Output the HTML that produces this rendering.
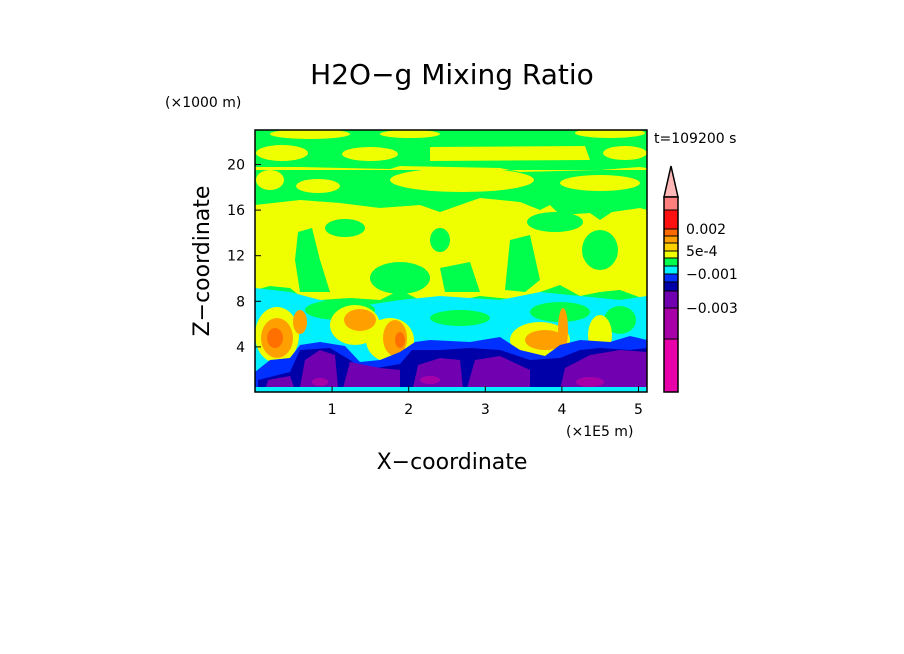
<!DOCTYPE html>
<html><head><meta charset="utf-8"><style>
body{margin:0;background:#fff;}
svg{display:block;font-family:"DejaVu Sans","Liberation Sans",sans-serif;}
</style></head><body>
<svg width="904" height="654" viewBox="0 0 904 654" id="svg">
<defs><clipPath id="pc"><rect x="255" y="130" width="392" height="262"/></clipPath></defs>
<text x="452" y="84" font-size="28" text-anchor="middle">H2O−g Mixing Ratio</text>
<text x="165" y="107" font-size="14">(×1000 m)</text>
<text x="654" y="143" font-size="14">t=109200 s</text>
<text x="566" y="436" font-size="14">(×1E5 m)</text>
<text x="452" y="469" font-size="22" text-anchor="middle">X−coordinate</text>
<text transform="translate(209,261) rotate(-90)" font-size="22" text-anchor="middle">Z−coordinate</text>
<g clip-path="url(#pc)">
<rect x="255" y="130" width="392" height="262" fill="#00ff4c"/>
<g fill="#f0ff00">
<ellipse cx="310" cy="134" rx="40" ry="5"/><ellipse cx="410" cy="134" rx="30" ry="4"/><ellipse cx="610" cy="133" rx="35" ry="5"/>
<ellipse cx="282" cy="153" rx="26" ry="8"/><ellipse cx="370" cy="154" rx="28" ry="7"/><path d="M430 147 L585 146 L590 160 L430 161 Z"/><ellipse cx="625" cy="153" rx="22" ry="7"/>
<path d="M255 167 L300 167 L390 169 L400 166 L500 168 L520 172 L600 170 L640 167 L647 168 L647 170 L255 170 Z"/>
<ellipse cx="270" cy="180" rx="14" ry="10"/><ellipse cx="318" cy="186" rx="22" ry="7"/><ellipse cx="462" cy="180" rx="72" ry="12"/><ellipse cx="600" cy="183" rx="40" ry="8"/>
<path d="M255 205 L300 200 L340 203 L380 208 L420 205 L440 212 L480 198 L520 202 L540 210 L550 205 L560 215 L590 213 L600 220 L612 212 L640 208 L647 210 L647 300 L620 290 L600 292 L580 296 L560 285 L540 292 L520 300 L480 296 L450 302 L420 300 L400 290 L380 300 L350 298 L320 300 L300 296 L290 288 L270 286 L255 290 Z"/>
</g>
<g fill="#00ff4c"><ellipse cx="345" cy="228" rx="20" ry="9"/><path d="M298 232 L312 228 L320 260 L330 292 L300 292 L295 260 Z"/><ellipse cx="440" cy="240" rx="10" ry="12"/><ellipse cx="555" cy="222" rx="28" ry="10"/><path d="M510 240 L530 235 L540 280 L525 292 L505 290 Z"/><ellipse cx="600" cy="250" rx="18" ry="20"/><ellipse cx="400" cy="278" rx="30" ry="16"/><path d="M440 268 L470 262 L480 292 L445 292 Z"/></g>
<path fill="#00f0ff" d="M255 288 L290 292 L320 300 L360 306 L400 300 L440 296 L470 298 L500 300 L540 292 L580 296 L620 300 L647 296 L647 392 L255 392 Z"/>
<g fill="#00ff4c"><ellipse cx="340" cy="310" rx="35" ry="10"/><ellipse cx="460" cy="318" rx="30" ry="8"/><ellipse cx="560" cy="312" rx="30" ry="10"/><ellipse cx="620" cy="320" rx="16" ry="14"/></g>
<g fill="#f0ff00"><ellipse cx="277" cy="335" rx="22" ry="28"/><ellipse cx="355" cy="325" rx="25" ry="20"/><ellipse cx="390" cy="340" rx="24" ry="22"/><ellipse cx="540" cy="340" rx="30" ry="18"/><ellipse cx="600" cy="335" rx="12" ry="20"/></g>
<g fill="#ffa000"><ellipse cx="277" cy="338" rx="16" ry="20"/><ellipse cx="300" cy="322" rx="7" ry="12"/><ellipse cx="360" cy="320" rx="16" ry="11"/><ellipse cx="395" cy="338" rx="12" ry="18"/><ellipse cx="545" cy="340" rx="20" ry="10"/><ellipse cx="563" cy="330" rx="5" ry="22"/></g>
<g fill="#ff7000"><ellipse cx="275" cy="338" rx="8" ry="10"/><ellipse cx="400" cy="340" rx="5" ry="8"/></g>
<path fill="#0030ff" d="M255 372 L270 360 L290 358 L300 345 L320 342 L345 346 L360 362 L380 360 L400 352 L415 342 L430 340 L470 342 L500 337 L520 350 L545 356 L560 345 L580 340 L610 342 L630 336 L647 340 L647 392 L255 392 Z"/>
<path fill="#0000a8" d="M258 380 L290 372 L300 350 L330 348 L350 360 L365 370 L400 364 L412 350 L440 350 L470 348 L500 350 L530 360 L560 358 L580 350 L600 348 L630 350 L647 348 L647 392 L258 392 Z"/>
<g fill="#7000b0"><path d="M300 387 L305 360 L320 350 L335 355 L338 387 Z"/><path d="M343 388 L350 362 L380 368 L400 370 L400 388 Z"/><path d="M413 388 L418 365 L440 358 L460 360 L463 388 Z"/><path d="M467 388 L475 360 L500 356 L530 370 L530 388 Z"/><path d="M560 390 L565 368 L590 355 L620 350 L647 352 L647 390 Z"/><path d="M265 390 L268 380 L290 376 L295 390 Z"/></g>
<g fill="#a800a8"><ellipse cx="320" cy="382" rx="8" ry="4"/><ellipse cx="430" cy="380" rx="10" ry="4"/><ellipse cx="590" cy="382" rx="14" ry="5"/></g>
<rect x="255" y="387" width="392" height="5" fill="#00f0ff"/>
</g>
<rect x="255" y="130" width="392" height="262" fill="none" stroke="#000" stroke-width="1.5"/>
<g id="axes"></g>
<g id="cbar"></g>
</svg>
<script>
const xTicks=[1,2,3,4,5];
const yTicks=[4,8,12,16,20];
const cbColors=["#ff7f7f","#ff1010","#ff6a00","#ffa000","#ffd000","#f0ff00","#00ff4c","#00f0ff","#0030ff","#0000a8","#7000b0","#a800a8","#e800a8"];
const cbBounds=[197,210,229,236,243,251,258,266,274,282,291,308,339,392];
const cbLabels=["0.002","5e-4","−0.001","−0.003"];
const cbLabelIdx=[2,5,8,11];
const NS="http://www.w3.org/2000/svg";
const xs=v=>255.5+v*76.6, ys=v=>392.5-v*11.4;
const ax=document.getElementById('axes');
function mk(t,a,p){const e=document.createElementNS(NS,t);for(const k in a)e.setAttribute(k,a[k]);p.appendChild(e);return e;}
xTicks.forEach(v=>{
 const l=mk('line',{x1:xs(v),x2:xs(v),y1:392,y2:386,stroke:'#000'},ax);
 
 
 const t=mk('text',{x:xs(v),y:414,'font-size':14,'text-anchor':'middle'},ax);t.textContent=v;
 
 
});
yTicks.forEach(v=>{
 const l=mk('line',{x1:255,x2:261,y1:ys(v),y2:ys(v),stroke:'#000'},ax);
 
 
 const t=mk('text',{x:245,y:ys(v)+5,'font-size':14,'text-anchor':'end'},ax);t.textContent=v;
 
 
});
const cb=document.getElementById('cbar');
const tri=mk('polygon',{points:'664,197 678,197 671,166',fill:'#ffb8b8',stroke:'#000','stroke-width':1.5},cb);


cbColors.forEach((c,i)=>{
 const r=mk('rect',{x:664,y:cbBounds[i],width:14,height:cbBounds[i+1]-cbBounds[i],fill:c,stroke:'#000','stroke-width':1},cb);
 
 
});
mk('rect',{x:664,y:197,width:14,height:195,fill:'none',stroke:'#000','stroke-width':1.5},cb);
cbLabels.forEach((s,i)=>{
 const t=mk('text',{x:686,y:cbBounds[cbLabelIdx[i]]+5,'font-size':14},cb);t.textContent=s;
 
 
});
</script>
</body></html>
